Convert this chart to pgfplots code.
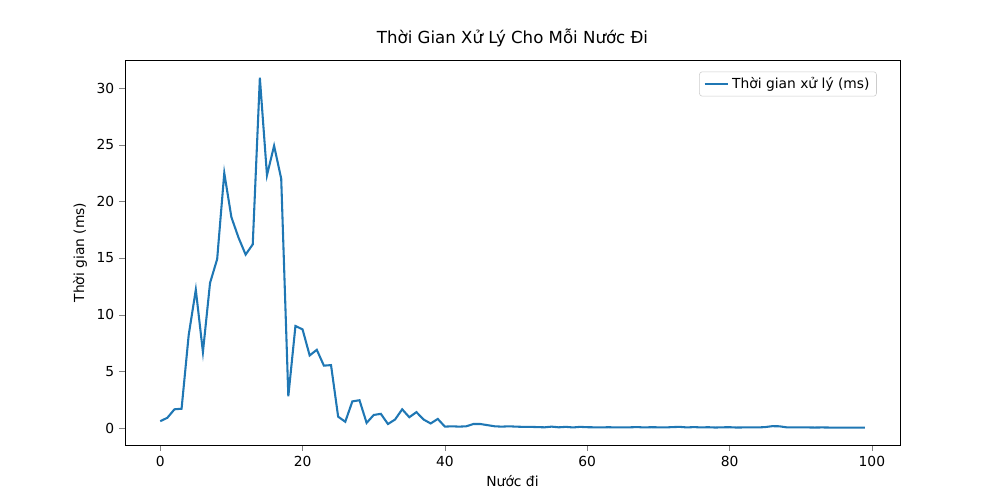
\documentclass[border=0pt]{standalone}
\usepackage{fontspec}
\setmainfont{DejaVu Sans}
\usepackage{pgfplots}
\pgfplotsset{compat=1.18}
\begin{document}
\begin{tikzpicture}
\begin{axis}[at={(0,0)},anchor=south west,scale only axis,width=7.75in,height=3.85in,
xmin=-4.95,xmax=103.95,ymin=-1.5,ymax=32.47,
xtick={0,20,40,60,80,100},ytick={0,5,10,15,20,25,30},
tick align=outside,tick pos=left,
/pgf/number format/assume math mode=true,
ticklabel style={font=\fontsize{10}{12}\selectfont},
title={\fontsize{12}{14}\selectfont Thời Gian Xử Lý Cho Mỗi Nước Đi},
xlabel={\fontsize{10}{12}\selectfont Nước đi},ylabel={\fontsize{10}{12}\selectfont Thời gian (ms)},
legend pos=north east,legend cell align=left,
legend style={font=\fontsize{10}{12}\selectfont,draw=black!20,rounded corners=2pt}]
\addplot[color={rgb,255:red,31;green,119;blue,180},line width=1.5pt] coordinates {
(0,0.6)(1,0.9)(2,1.65)(3,1.7)(4,8.2)(5,12.2)(6,6.7)(7,12.8)(8,14.9)(9,22.5)
(10,18.6)(11,16.8)(12,15.3)(13,16.2)(14,30.9)(15,22.3)(16,24.9)(17,22.0)(18,2.8)(19,9.0)
(20,8.7)(21,6.4)(22,6.9)(23,5.5)(24,5.55)(25,1.0)(26,0.55)(27,2.35)(28,2.45)(29,0.45)
(30,1.15)(31,1.25)(32,0.35)(33,0.75)(34,1.65)(35,0.95)(36,1.4)(37,0.75)(38,0.4)(39,0.8)
(40,0.12)(41,0.15)(42,0.12)(43,0.15)(44,0.35)(45,0.35)(46,0.25)(47,0.15)(48,0.12)(49,0.15)
(50,0.12)(51,0.1)(52,0.1)(53,0.08)(54,0.06)(55,0.12)(56,0.06)(57,0.1)(58,0.05)(59,0.1)
(60,0.07)(61,0.06)(62,0.05)(63,0.07)(64,0.05)(65,0.05)(66,0.06)(67,0.08)(68,0.05)(69,0.07)
(70,0.06)(71,0.05)(72,0.08)(73,0.1)(74,0.05)(75,0.08)(76,0.05)(77,0.07)(78,0.04)(79,0.06)
(80,0.07)(81,0.04)(82,0.05)(83,0.06)(84,0.05)(85,0.08)(86,0.16)(87,0.15)(88,0.06)(89,0.05)
(90,0.05)(91,0.05)(92,0.04)(93,0.05)(94,0.04)(95,0.03)(96,0.03)(97,0.04)(98,0.04)(99,0.03)};
\addlegendentry{Thời gian xử lý (ms)}
\end{axis}
\useasboundingbox (-1.25in,-0.55in) rectangle (8.75in,4.45in);
\end{tikzpicture}
\end{document}
